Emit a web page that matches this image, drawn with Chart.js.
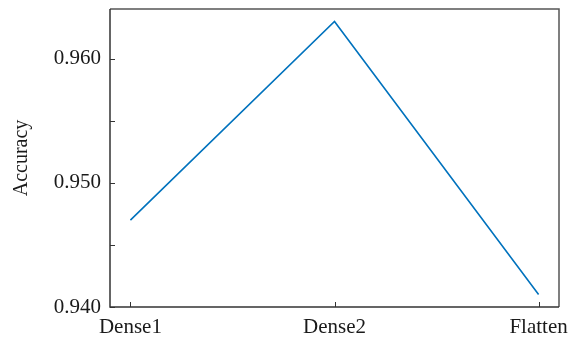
<!DOCTYPE html>
<html lang="en">
<head>
<meta charset="UTF-8">
<title>Accuracy by layer</title>
<script src="https://cdn.jsdelivr.net/npm/chart.js"></script>
<style>
  html, body { margin: 0; padding: 0; background: #fff; }
  #wrap { width: 569px; height: 339px; }
</style>
</head>
<body>
<div id="wrap"><canvas id="accChart" width="569" height="339"></canvas></div>
<script>
  // data
  const layers = ["Dense1", "Dense2", "Flatten"];
  const accuracy = [0.947, 0.963, 0.941];
  const yLabelled = [0.94, 0.95, 0.96];

  const FONT = "'Liberation Serif', 'Times New Roman', serif";

  // box around the plot + inward tick marks (matlab look)
  const frame = {
    id: "frame",
    afterDraw(chart) {
      const ctx = chart.ctx;
      const a = chart.chartArea;
      const xs = chart.scales.x, ys = chart.scales.y;
      ctx.save();
      ctx.lineWidth = 1.5;
      ctx.strokeStyle = "#555";
      ctx.beginPath();
      ctx.moveTo(a.left, a.top);
      ctx.lineTo(a.right, a.top);
      ctx.lineTo(a.right, a.bottom);
      ctx.stroke();
      ctx.strokeStyle = "#333";
      ctx.beginPath();
      ctx.moveTo(a.left, a.top);
      ctx.lineTo(a.left, a.bottom);
      ctx.lineTo(a.right, a.bottom);
      ctx.stroke();
      ctx.lineWidth = 1;
      ctx.beginPath();
      ys.ticks.forEach(t => {
        const y = Math.round(ys.getPixelForValue(t.value)) + 0.5;
        ctx.moveTo(a.left, y);
        ctx.lineTo(a.left + 5, y);
      });
      xs.ticks.forEach(t => {
        const x = Math.round(xs.getPixelForValue(t.value)) + 0.5;
        ctx.moveTo(x, a.bottom);
        ctx.lineTo(x, a.bottom - 5);
      });
      ctx.stroke();
      ctx.restore();
    }
  };

  new Chart(document.getElementById("accChart"), {
    type: "line",
    data: {
      datasets: [{
        data: accuracy.map((v, i) => ({ x: i, y: v })),
        borderColor: "#0072BD",
        borderWidth: 1.6,
        pointRadius: 0,
        tension: 0,
        fill: false
      }]
    },
    options: {
      responsive: false,
      animation: false,
      layout: { padding: { left: 0, right: 10, top: 9, bottom: 0 } },
      plugins: { legend: { display: false }, tooltip: { enabled: false } },
      scales: {
        x: {
          type: "linear",
          min: -0.1,
          max: 2.1,
          afterBuildTicks(scale) {
            scale.ticks = layers.map((_, i) => ({ value: i }));
          },
          afterFit(scale) {
            scale.height = 32;
            scale.paddingLeft = 0;
            scale.paddingRight = 0;
          },
          grid: { display: false, drawTicks: false },
          border: { display: false },
          ticks: {
            autoSkip: false,
            maxRotation: 0,
            padding: 8,
            color: "#1a1a1a",
            font: { family: FONT, size: 21 },
            callback: v => layers[v] ?? ""
          }
        },
        y: {
          min: 0.94,
          max: 0.964,
          afterBuildTicks(scale) {
            scale.ticks = [0.94, 0.945, 0.95, 0.955, 0.96].map(v => ({ value: v }));
          },
          afterFit(scale) {
            scale.width = 110;
            scale.paddingTop = 0;
            scale.paddingBottom = 0;
          },
          grid: { display: false, drawTicks: false },
          border: { display: false },
          title: {
            display: true,
            text: "Accuracy",
            color: "#1a1a1a",
            font: { family: FONT, size: 20 },
            padding: { top: 10, bottom: 4 }
          },
          ticks: {
            padding: 9,
            color: "#1a1a1a",
            font: { family: FONT, size: 21 },
            callback: v => yLabelled.some(l => Math.abs(l - v) < 1e-6) ? v.toFixed(3) : ""
          }
        }
      }
    },
    plugins: [frame]
  });
</script>
</body>
</html>
